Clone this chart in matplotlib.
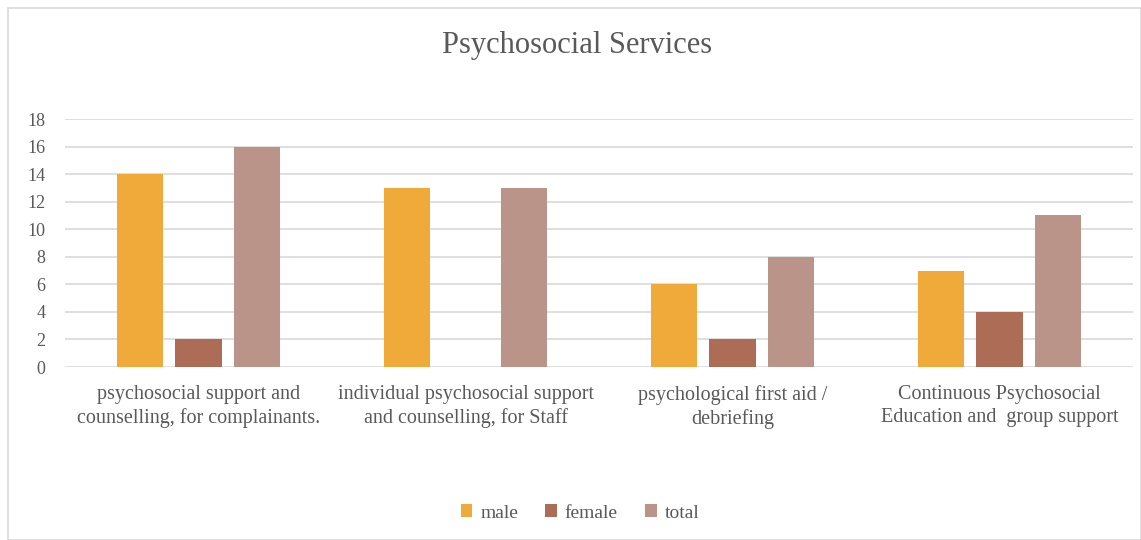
import matplotlib
matplotlib.use("Agg")
import matplotlib.pyplot as plt
import numpy as np
from matplotlib.patches import Rectangle

categories = ["psychosocial support and\ncounselling, for complainants.",
              "individual psychosocial support\nand counselling, for Staff",
              "psychological first aid /\ndebriefing",
              "Continuous Psychosocial\nEducation and  group support"]
male = [14, 13, 6, 7]
female = [2, 0, 2, 4]
total = [16, 13, 8, 11]
series_names = ["male", "female", "total"]
colors = ["#F0AA3A", "#AD6C55", "#BA9389"]
yticks = [0, 2, 4, 6, 8, 10, 12, 14, 16, 18]

plt.rcParams['font.family'] = ['Liberation Serif', 'DejaVu Serif']
text_color = "#595959"

fig = plt.figure(figsize=(11.41, 5.40), dpi=100)
fig.patches.append(Rectangle((8/1141, 0), 1 - 8/1141, 1 - 8/540, transform=fig.transFigure,
                             fill=False, edgecolor="#D9D9D9", linewidth=1.2))

ax = fig.add_axes([65/1141, 1 - 367/540, (1133-65)/1141, (367-119)/540])
x = np.arange(len(categories))
w = 0.173
step = 0.219
for i, (vals, name, c) in enumerate(zip([male, female, total], series_names, colors)):
    ax.bar(x + (i - 1) * step, vals, width=w, color=c, label=name, zorder=3)

ax.set_xlim(-0.5, len(categories) - 0.5)
ax.set_ylim(0, 18)
ax.set_yticks(yticks)
ax.yaxis.grid(True, color="#D9D9D9", linewidth=1.2, zorder=0)
for s in ax.spines.values():
    s.set_visible(False)
ax.tick_params(axis='both', length=0, colors=text_color)
ax.tick_params(axis='y', pad=14, labelsize=13)
ax.tick_params(axis='x', pad=13, labelsize=14.5)
ax.set_xticks(x)
ax.set_xticklabels(categories, color=text_color, linespacing=1.3)
for lbl in ax.get_yticklabels():
    lbl.set_color(text_color)

fig.text(577/1141, 1 - 46/540, "Psychosocial Services", ha="center", va="center",
         fontsize=22, color=text_color)

leg = fig.legend(loc="center", bbox_to_anchor=(580/1141, 1 - 513/540), ncol=3, frameon=False,
                 fontsize=14, handlelength=0.6, handleheight=0.6, handletextpad=0.4,
                 columnspacing=1.4)
for t in leg.get_texts():
    t.set_color(text_color)

fig.savefig("out.png", dpi=100)
